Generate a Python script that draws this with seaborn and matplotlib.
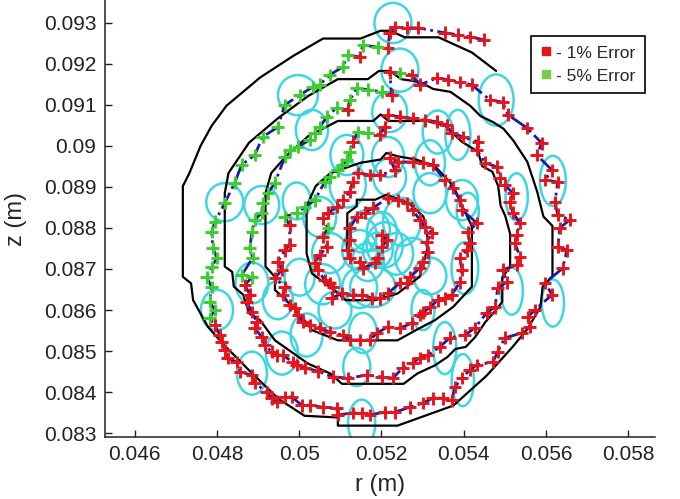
import numpy as np
import pandas as pd
import matplotlib
matplotlib.use("Agg")
import matplotlib.pyplot as plt
from matplotlib.patches import Ellipse
from matplotlib.lines import Line2D
import seaborn as sns

# black spiral boundary (r, z in metres), outer end -> centre
spiral_r = [0.05479, 0.05420, 0.05339, 0.05257, 0.05221, 0.05198, 0.05149, 0.05058, 0.04986, 0.04905,
            0.04823, 0.04787, 0.04760, 0.04733, 0.04717, 0.04717, 0.04737, 0.04742, 0.04778, 0.04814,
            0.04878, 0.04950, 0.05013, 0.05094, 0.05094, 0.05239, 0.05375, 0.05456, 0.05519, 0.05556,
            0.05587, 0.05592, 0.05616, 0.05616, 0.05594, 0.05579, 0.05555, 0.05521, 0.05497, 0.05472,
            0.05441, 0.05416, 0.05368, 0.05326, 0.05294, 0.05248, 0.05221, 0.05194, 0.05167, 0.05094,
            0.05022, 0.04950, 0.04878, 0.04828, 0.04819, 0.04819, 0.04837, 0.04841, 0.04864, 0.04878,
            0.04905, 0.04941, 0.05022, 0.05076, 0.05104, 0.05254, 0.05287, 0.05330, 0.05360, 0.05380,
            0.05405, 0.05428, 0.05453, 0.05477, 0.05494, 0.05494, 0.05513, 0.05513, 0.05501, 0.05490,
            0.05484, 0.05470, 0.05445, 0.05435, 0.05396, 0.05380, 0.05356, 0.05311, 0.05217, 0.05198,
            0.05180, 0.05094, 0.05022, 0.04968, 0.04932, 0.04918, 0.04918, 0.04941, 0.04941, 0.04968,
            0.05013, 0.05031, 0.05094, 0.05239, 0.05284, 0.05330, 0.05375, 0.05420, 0.05420, 0.05397,
            0.05375, 0.05330, 0.05284, 0.05239, 0.05212, 0.05198, 0.05149, 0.05076, 0.05040, 0.05018,
            0.05018, 0.05031, 0.05085, 0.05113, 0.05185, 0.05239, 0.05293, 0.05311, 0.05311, 0.05302,
            0.05266, 0.05212, 0.05185, 0.05140, 0.05140, 0.05117, 0.05117]
spiral_z = [0.09183, 0.09228, 0.09265, 0.09265, 0.09281, 0.09281, 0.09262, 0.09262, 0.09220, 0.09167,
            0.09098, 0.09049, 0.09000, 0.08934, 0.08902, 0.08681, 0.08665, 0.08624, 0.08559, 0.08518,
            0.08453, 0.08383, 0.08342, 0.08338, 0.08318, 0.08318, 0.08367, 0.08440, 0.08510, 0.08555,
            0.08608, 0.08657, 0.08683, 0.08805, 0.08828, 0.08888, 0.08961, 0.09013, 0.09042, 0.09058,
            0.09073, 0.09098, 0.09132, 0.09139, 0.09156, 0.09163, 0.09183, 0.09183, 0.09163, 0.09163,
            0.09122, 0.09069, 0.09008, 0.08934, 0.08885, 0.08706, 0.08693, 0.08657, 0.08637, 0.08592,
            0.08575, 0.08526, 0.08469, 0.08445, 0.08420, 0.08420, 0.08445, 0.08465, 0.08485, 0.08505,
            0.08510, 0.08534, 0.08571, 0.08598, 0.08620, 0.08680, 0.08705, 0.08786, 0.08830, 0.08854,
            0.08902, 0.08937, 0.08951, 0.08986, 0.09010, 0.09025, 0.09049, 0.09061, 0.09061, 0.09077,
            0.09061, 0.09061, 0.09024, 0.08975, 0.08934, 0.08885, 0.08706, 0.08681, 0.08649, 0.08624,
            0.08575, 0.08551, 0.08526, 0.08526, 0.08551, 0.08575, 0.08608, 0.08657, 0.08804, 0.08853,
            0.08902, 0.08951, 0.08967, 0.08975, 0.08983, 0.08967, 0.08959, 0.08934, 0.08902, 0.08853,
            0.08738, 0.08689, 0.08649, 0.08624, 0.08624, 0.08640, 0.08681, 0.08747, 0.08787, 0.08828,
            0.08861, 0.08881, 0.08869, 0.08869, 0.08853, 0.08836, 0.08747]

# tracked points (blue dash-dot path with + markers)
path_r = [0.05449, 0.05415, 0.05386, 0.05354, 0.05289, 0.05262, 0.05233, 0.05220, 0.05216, 0.05191,
          0.05155, 0.05147, 0.05118, 0.05106, 0.05074, 0.05050, 0.05033, 0.05001, 0.04965, 0.04948,
          0.04911, 0.04892, 0.04860, 0.04843, 0.04819, 0.04795, 0.04787, 0.04790, 0.04800, 0.04787,
          0.04775, 0.04787, 0.04782, 0.04795, 0.04782, 0.04795, 0.04807, 0.04812, 0.04819, 0.04826,
          0.04848, 0.04856, 0.04885, 0.04892, 0.04921, 0.04933, 0.04945, 0.04965, 0.04982, 0.05006,
          0.05026, 0.05057, 0.05091, 0.05094, 0.05130, 0.05152, 0.05172, 0.05208, 0.05233, 0.05269,
          0.05301, 0.05325, 0.05349, 0.05371, 0.05379, 0.05396, 0.05415, 0.05432, 0.05471, 0.05483,
          0.05500, 0.05542, 0.05561, 0.05556, 0.05573, 0.05615, 0.05598, 0.05641, 0.05651, 0.05629,
          0.05634, 0.05658, 0.05629, 0.05622, 0.05629, 0.05598, 0.05615, 0.05578, 0.05590, 0.05554,
          0.05508, 0.05495, 0.05464, 0.05420, 0.05391, 0.05362, 0.05335, 0.05293, 0.05274, 0.05245,
          0.05220, 0.05225, 0.05201, 0.05167, 0.05140, 0.05123, 0.05118, 0.05091, 0.05067, 0.05050,
          0.05038, 0.05026, 0.04997, 0.04977, 0.04965, 0.04941, 0.04924, 0.04911, 0.04909, 0.04892,
          0.04885, 0.04880, 0.04887, 0.04860, 0.04885, 0.04868, 0.04880, 0.04872, 0.04885, 0.04897,
          0.04892, 0.04909, 0.04916, 0.04933, 0.04945, 0.04960, 0.04984, 0.04994, 0.05014, 0.05045,
          0.05082, 0.05118, 0.05164, 0.05201, 0.05228, 0.05252, 0.05276, 0.05293, 0.05313, 0.05342,
          0.05366, 0.05403, 0.05427, 0.05456, 0.05476, 0.05483, 0.05505, 0.05495, 0.05529, 0.05537,
          0.05525, 0.05529, 0.05537, 0.05520, 0.05512, 0.05520, 0.05500, 0.05488, 0.05481, 0.05452,
          0.05432, 0.05435, 0.05398, 0.05371, 0.05359, 0.05335, 0.05306, 0.05276, 0.05245, 0.05216,
          0.05208, 0.05196, 0.05167, 0.05143, 0.05130, 0.05123, 0.05116, 0.05104, 0.05094, 0.05074,
          0.05062, 0.05038, 0.05014, 0.04994, 0.04965, 0.04977, 0.04977, 0.04965, 0.04948, 0.04958,
          0.04941, 0.04965, 0.04960, 0.04977, 0.04989, 0.04997, 0.05009, 0.05026, 0.05050, 0.05074,
          0.05106, 0.05123, 0.05147, 0.05172, 0.05189, 0.05216, 0.05245, 0.05274, 0.05293, 0.05301,
          0.05318, 0.05337, 0.05354, 0.05371, 0.05391, 0.05396, 0.05391, 0.05408, 0.05415, 0.05410,
          0.05432, 0.05396, 0.05391, 0.05374, 0.05354, 0.05325, 0.05301, 0.05276, 0.05240, 0.05220,
          0.05233, 0.05196, 0.05172, 0.05143, 0.05130, 0.05123, 0.05106, 0.05091, 0.05070, 0.05057,
          0.05070, 0.05057, 0.05067, 0.05050, 0.05038, 0.05045, 0.05062, 0.05074, 0.05082, 0.05079,
          0.05104, 0.05130, 0.05152, 0.05177, 0.05196, 0.05216, 0.05245, 0.05262, 0.05269, 0.05293,
          0.05301, 0.05313, 0.05310, 0.05323, 0.05306, 0.05293, 0.05276, 0.05262, 0.05240, 0.05216,
          0.05179, 0.05160, 0.05140, 0.05123, 0.05123, 0.05118, 0.05123, 0.05147, 0.05155, 0.05184,
          0.05191, 0.05201, 0.05213, 0.05201]
path_z = [0.09259, 0.09266, 0.09271, 0.09276, 0.09288, 0.09288, 0.09290, 0.09276, 0.09239, 0.09241,
          0.09246, 0.09217, 0.09222, 0.09193, 0.09173, 0.09149, 0.09144, 0.09124, 0.09100, 0.09046,
          0.09022, 0.08978, 0.08954, 0.08910, 0.08861, 0.08815, 0.08790, 0.08751, 0.08727, 0.08705,
          0.08680, 0.08656, 0.08620, 0.08600, 0.08580, 0.08563, 0.08539, 0.08522, 0.08502, 0.08483,
          0.08473, 0.08449, 0.08441, 0.08422, 0.08400, 0.08385, 0.08376, 0.08388, 0.08388, 0.08368,
          0.08368, 0.08363, 0.08361, 0.08344, 0.08349, 0.08349, 0.08344, 0.08351, 0.08351, 0.08363,
          0.08373, 0.08385, 0.08385, 0.08380, 0.08412, 0.08434, 0.08454, 0.08466, 0.08473, 0.08498,
          0.08532, 0.08544, 0.08559, 0.08583, 0.08600, 0.08637, 0.08666, 0.08702, 0.08746, 0.08754,
          0.08800, 0.08820, 0.08832, 0.08863, 0.08912, 0.08917, 0.08941, 0.08978, 0.09007, 0.09044,
          0.09076, 0.09107, 0.09112, 0.09149, 0.09156, 0.09161, 0.09166, 0.09149, 0.09173, 0.09178,
          0.09180, 0.09124, 0.09132, 0.09137, 0.09141, 0.09112, 0.09088, 0.09093, 0.09071, 0.09046,
          0.09032, 0.09015, 0.08998, 0.08990, 0.08973, 0.08910, 0.08885, 0.08861, 0.08837, 0.08820,
          0.08790, 0.08751, 0.08727, 0.08685, 0.08680, 0.08661, 0.08637, 0.08620, 0.08595, 0.08571,
          0.08556, 0.08534, 0.08515, 0.08498, 0.08490, 0.08490, 0.08473, 0.08466, 0.08459, 0.08451,
          0.08437, 0.08434, 0.08441, 0.08437, 0.08434, 0.08459, 0.08471, 0.08483, 0.08490, 0.08510,
          0.08532, 0.08539, 0.08556, 0.08593, 0.08607, 0.08654, 0.08668, 0.08698, 0.08710, 0.08729,
          0.08763, 0.08783, 0.08812, 0.08837, 0.08863, 0.08885, 0.08905, 0.08922, 0.08949, 0.08959,
          0.08990, 0.09010, 0.09022, 0.09032, 0.09051, 0.09059, 0.09063, 0.09068, 0.09071, 0.09076,
          0.09046, 0.09027, 0.09032, 0.09034, 0.09010, 0.08985, 0.08966, 0.08954, 0.08941, 0.08924,
          0.08912, 0.08868, 0.08851, 0.08837, 0.08827, 0.08807, 0.08759, 0.08746, 0.08717, 0.08698,
          0.08678, 0.08656, 0.08637, 0.08612, 0.08605, 0.08588, 0.08571, 0.08563, 0.08556, 0.08546,
          0.08539, 0.08527, 0.08527, 0.08527, 0.08544, 0.08559, 0.08556, 0.08568, 0.08588, 0.08593,
          0.08607, 0.08624, 0.08629, 0.08637, 0.08668, 0.08698, 0.08727, 0.08746, 0.08763, 0.08790,
          0.08812, 0.08844, 0.08868, 0.08898, 0.08917, 0.08954, 0.08959, 0.08961, 0.08961, 0.08971,
          0.08941, 0.08929, 0.08929, 0.08934, 0.08912, 0.08888, 0.08868, 0.08851, 0.08837, 0.08824,
          0.08800, 0.08778, 0.08754, 0.08734, 0.08715, 0.08698, 0.08673, 0.08666, 0.08656, 0.08629,
          0.08641, 0.08637, 0.08637, 0.08629, 0.08629, 0.08641, 0.08666, 0.08666, 0.08680, 0.08702,
          0.08717, 0.08741, 0.08766, 0.08788, 0.08802, 0.08820, 0.08844, 0.08861, 0.08868, 0.08873,
          0.08849, 0.08837, 0.08827, 0.08800, 0.08771, 0.08746, 0.08727, 0.08717, 0.08702, 0.08715,
          0.08727, 0.08754, 0.08771, 0.08783]
# error class of each point: '1' = 1% error, '5' = 5% error
path_err = ("1111111115" "5155555555" "5555555555" "5555511111" "1111111111"
            "1111111111" "1111111111" "1111111111" "1111111111" "1111111115"
            "1155551555" "5555555555" "5555511111" "1111111111" "1111111111"
            "1111111111" "1111111111" "1111111111" "1155155555" "5555511111"
            "1111111111" "1111111111" "1111111111" "1111111111" "1111111111"
            "5111111111" "1111111111" "1111111111" "1111111111" "1111")

# cyan uncertainty ellipses: centre and full width / height
ell_r = [0.05228, 0.05245, 0.04997, 0.05479, 0.05031, 0.05220, 0.05116, 0.05337, 0.05216, 0.05318,
         0.05617, 0.05529, 0.05118, 0.05220, 0.05318, 0.05410, 0.04819, 0.04909, 0.04994, 0.05050,
         0.05172, 0.05208, 0.05147, 0.05250, 0.05276, 0.05403, 0.05517, 0.05617, 0.05074, 0.05001,
         0.05318, 0.05179, 0.04885, 0.04800, 0.04948, 0.05087, 0.05301, 0.05018, 0.05155, 0.04958,
         0.04885, 0.05140, 0.05354, 0.05398, 0.05152, 0.05152, 0.05191, 0.05167, 0.05201, 0.05237,
         0.05057, 0.05147, 0.05386, 0.05396]
ell_z = [0.09300, 0.09185, 0.09124, 0.09112, 0.09039, 0.09083, 0.08978, 0.09034, 0.08973, 0.08959,
         0.08915, 0.08876, 0.08905, 0.08924, 0.08885, 0.08841, 0.08863, 0.08856, 0.08866, 0.08827,
         0.08795, 0.08759, 0.08746, 0.08815, 0.08727, 0.08702, 0.08646, 0.08617, 0.08739, 0.08680,
         0.08683, 0.08656, 0.08666, 0.08600, 0.08624, 0.08600, 0.08600, 0.08539, 0.08544, 0.08495,
         0.08446, 0.08461, 0.08507, 0.08429, 0.08324, 0.08783, 0.08746, 0.08717, 0.08790, 0.08737,
         0.08663, 0.08654, 0.09027, 0.08868]
ell_w = [0.00090, 0.00090, 0.00097, 0.00085, 0.00078, 0.00085, 0.00080, 0.00073, 0.00078, 0.00073,
         0.00063, 0.00054, 0.00088, 0.00080, 0.00080, 0.00054, 0.00090, 0.00085, 0.00068, 0.00080,
         0.00097, 0.00088, 0.00085, 0.00092, 0.00085, 0.00065, 0.00054, 0.00054, 0.00085, 0.00073,
         0.00080, 0.00110, 0.00080, 0.00078, 0.00073, 0.00080, 0.00056, 0.00078, 0.00068, 0.00078,
         0.00073, 0.00066, 0.00056, 0.00054, 0.00066, 0.00073, 0.00073, 0.00078, 0.00073, 0.00080,
         0.00085, 0.00085, 0.00061, 0.00078]
ell_h = [0.00098, 0.00105, 0.00098, 0.00125, 0.00098, 0.00098, 0.00098, 0.00105, 0.00098, 0.00110,
         0.00122, 0.00115, 0.00110, 0.00093, 0.00098, 0.00090, 0.00093, 0.00093, 0.00090, 0.00098,
         0.00102, 0.00110, 0.00098, 0.00117, 0.00098, 0.00127, 0.00115, 0.00115, 0.00098, 0.00090,
         0.00090, 0.00098, 0.00100, 0.00098, 0.00093, 0.00090, 0.00098, 0.00105, 0.00098, 0.00105,
         0.00105, 0.00093, 0.00127, 0.00127, 0.00115, 0.00085, 0.00085, 0.00093, 0.00098, 0.00102,
         0.00098, 0.00098, 0.00122, 0.00098]

r_ticks = [0.046, 0.048, 0.050, 0.052, 0.054, 0.056, 0.058]
r_tick_labels = ['0.046', '0.048', '0.05', '0.052', '0.054', '0.056', '0.058']
z_ticks = [0.083, 0.084, 0.085, 0.086, 0.087, 0.088, 0.089, 0.090, 0.091, 0.092, 0.093]
z_tick_labels = ['0.083', '0.084', '0.085', '0.086', '0.087', '0.088', '0.089', '0.09',
                 '0.091', '0.092', '0.093']

err_names = {'1': '1% Error', '5': '5% Error'}
err_colors = {'1% Error': '#e8141c', '5% Error': '#3ccf2c'}

sns.set_style("ticks")
plt.rcParams['font.family'] = ['Liberation Sans', 'DejaVu Sans']

fig = plt.figure(figsize=(6.8, 4.99), dpi=100)
ax = fig.add_axes([0.154, 0.124, 0.809, 0.876])

for cr, cz, w, h in zip(ell_r, ell_z, ell_w, ell_h):
    ax.add_patch(Ellipse((cr, cz), w, h, fill=False, ec='#3ed6e2', lw=1.8, zorder=1))

spiral_df = pd.DataFrame({'r': spiral_r, 'z': spiral_z})
sns.lineplot(data=spiral_df, x='r', y='z', sort=False, estimator=None,
             color='black', lw=1.6, ax=ax, zorder=2)

path_df = pd.DataFrame({'r': path_r, 'z': path_z,
                        'err': [err_names[c] for c in path_err]})
sns.lineplot(data=path_df, x='r', y='z', sort=False, estimator=None,
             color='#1b1ba6', lw=2.0, ls='-.', ax=ax, zorder=3)
sns.scatterplot(data=path_df, x='r', y='z', hue='err', palette=err_colors,
                marker='+', s=85, linewidth=2.1, ax=ax, zorder=4, legend=False)

ax.set_xlim(0.04527, 0.05865)
ax.set_ylim(0.08290, 0.09356)
ax.set_xticks(r_ticks)
ax.set_xticklabels(r_tick_labels)
ax.set_yticks(z_ticks)
ax.set_yticklabels(z_tick_labels)
ax.tick_params(direction='in', length=5, width=1, labelsize=15, pad=6, colors='#222222')
ax.set_xlabel('r (m)', fontsize=17, labelpad=7)
ax.set_ylabel('z (m)', fontsize=17, labelpad=12)
sns.despine(ax=ax)
for side in ['left', 'bottom']:
    ax.spines[side].set_linewidth(1.1)
    ax.spines[side].set_color('#222222')

handles = [Line2D([], [], ls='none', marker='s', markersize=6, color='#e8141c', label='- 1% Error'),
           Line2D([], [], ls='none', marker='s', markersize=6, color='#7acb4c', label='- 5% Error')]
leg = ax.legend(handles=handles, loc='upper right', bbox_to_anchor=(0.982, 0.918),
                borderaxespad=0, fontsize=12.5, handlelength=0.6, handletextpad=0.3,
                borderpad=0.55, labelspacing=0.45, fancybox=False, framealpha=1,
                edgecolor='black')
leg.get_frame().set_linewidth(1.2)

fig.savefig('out.png', dpi=100)
